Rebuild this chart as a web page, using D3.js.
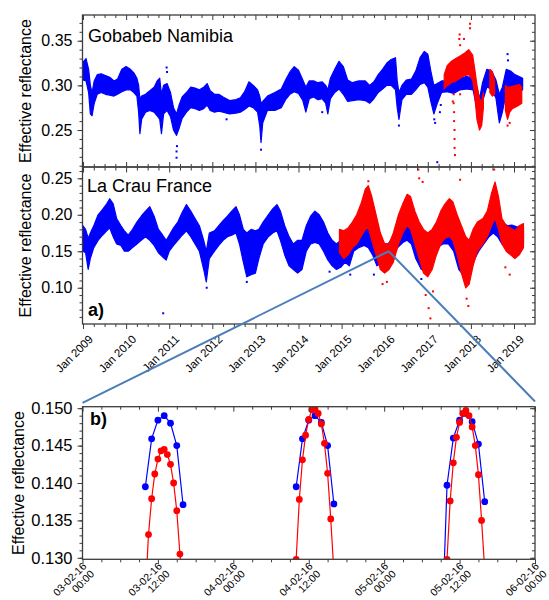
<!DOCTYPE html>
<html><head><meta charset="utf-8">
<script src="https://cdn.jsdelivr.net/npm/d3@7"></script>
<style>body{margin:0;background:#fff}svg text{font-family:Arial,"Liberation Sans",sans-serif}</style>
</head><body><svg id="c" width="549" height="600"></svg>
<script>
// ---------- DATA ----------
// Gobabeb Namibia, blue series: envelope of the dense scatter (decimal year, low, high)
const gobBlueYear=[2009.00,2009.07,2009.13,2009.17,2009.21,2009.26,2009.33,2009.42,2009.52,2009.62,2009.72,2009.80,2009.90,2010.00,2010.10,2010.18,2010.25,2010.29,2010.32,2010.36,2010.45,2010.55,2010.65,2010.72,2010.78,2010.82,2010.87,2010.95,2011.03,2011.10,2011.17,2011.23,2011.30,2011.40,2011.50,2011.60,2011.70,2011.80,2011.88,2011.95,2012.05,2012.15,2012.25,2012.40,2012.55,2012.65,2012.75,2012.85,2012.95,2013.05,2013.10,2013.13,2013.17,2013.28,2013.45,2013.60,2013.70,2013.80,2013.90,2014.00,2014.10,2014.17,2014.25,2014.35,2014.45,2014.55,2014.63,2014.68,2014.74,2014.84,2014.94,2015.04,2015.14,2015.25,2015.40,2015.55,2015.65,2015.75,2015.85,2015.95,2016.05,2016.15,2016.25,2016.29,2016.33,2016.40,2016.50,2016.62,2016.72,2016.82,2016.92,2017.00,2017.07,2017.14,2017.22,2017.32,2017.45,2017.60,2017.75,2017.90,2018.05,2018.13,2018.20,2018.27,2018.37,2018.48,2018.58,2018.66,2018.73,2018.82,2018.92,2019.02,2019.12,2019.20];
const gobBlueLo=[0.306,0.305,0.292,0.268,0.266,0.280,0.290,0.292,0.290,0.289,0.288,0.290,0.293,0.295,0.295,0.292,0.288,0.270,0.246,0.262,0.270,0.272,0.270,0.266,0.262,0.246,0.268,0.272,0.265,0.250,0.244,0.252,0.263,0.270,0.275,0.274,0.272,0.274,0.278,0.272,0.270,0.271,0.270,0.268,0.269,0.270,0.273,0.277,0.275,0.270,0.255,0.236,0.258,0.272,0.272,0.275,0.284,0.290,0.293,0.291,0.283,0.270,0.285,0.287,0.284,0.285,0.280,0.268,0.285,0.292,0.296,0.290,0.282,0.283,0.284,0.283,0.280,0.285,0.292,0.296,0.300,0.300,0.295,0.275,0.262,0.284,0.290,0.290,0.295,0.301,0.303,0.298,0.282,0.268,0.280,0.292,0.293,0.291,0.295,0.296,0.295,0.276,0.258,0.282,0.298,0.296,0.286,0.258,0.270,0.292,0.295,0.293,0.294,0.295];
const gobBlueHi=[0.326,0.330,0.318,0.300,0.292,0.305,0.312,0.313,0.311,0.309,0.305,0.307,0.318,0.321,0.318,0.314,0.308,0.300,0.285,0.288,0.290,0.294,0.298,0.305,0.308,0.290,0.300,0.302,0.292,0.275,0.268,0.278,0.287,0.292,0.298,0.297,0.295,0.298,0.302,0.294,0.290,0.290,0.287,0.283,0.284,0.286,0.293,0.304,0.300,0.295,0.288,0.280,0.282,0.288,0.292,0.296,0.306,0.315,0.321,0.317,0.306,0.298,0.305,0.305,0.303,0.304,0.300,0.295,0.308,0.318,0.327,0.321,0.306,0.303,0.305,0.305,0.300,0.304,0.312,0.318,0.325,0.329,0.331,0.305,0.292,0.300,0.306,0.307,0.316,0.331,0.338,0.335,0.316,0.300,0.302,0.305,0.305,0.305,0.308,0.310,0.308,0.300,0.285,0.303,0.318,0.316,0.306,0.290,0.298,0.318,0.316,0.312,0.310,0.308];
// Gobabeb red series (null = gap)
const gobRedYear=[2017.38,2017.45,2017.55,2017.65,2017.75,2017.85,2017.95,2018.04,2018.09,2018.14,2018.20,2018.25,2018.29,2018.36,2018.44,2018.50,2018.55,2018.65,2018.80,2018.85,2018.90,2018.96,2019.05,2019.12,2019.18];
const gobRedLo=[0.296,0.300,0.303,0.305,0.308,0.311,0.312,0.306,0.288,0.262,0.250,0.255,0.275,null,0.292,0.288,0.290,null,0.272,0.262,0.270,0.274,0.276,0.278,0.280];
const gobRedHi=[0.312,0.322,0.327,0.330,0.333,0.336,0.340,0.334,0.318,0.300,0.285,0.282,0.292,null,0.318,0.315,0.305,null,0.300,0.298,0.298,0.299,0.300,0.301,0.298];
// Gobabeb isolated points
const gobBlueOutYear=[2010.94,2010.95,2011.17,2011.17,2011.18,2013.13,2017.22,2018.85,2018.86,2016.33,2017.15,2017.17,2012.33,2014.55,2017.28,2017.30];
const gobBlueOutVal=[0.320,0.315,0.219,0.226,0.232,0.228,0.214,0.335,0.328,0.255,0.262,0.258,0.262,0.270,0.270,0.278];
const gobRedOutYear=[2017.60,2017.60,2017.61,2017.61,2017.62,2017.62,2017.62,2017.63,2017.73,2017.74,2017.75,2017.84,2017.98,2017.98,2018.85,2018.90,2017.75,2017.58];
const gobRedOutVal=[0.290,0.280,0.270,0.260,0.250,0.240,0.230,0.222,0.352,0.357,0.345,0.352,0.369,0.364,0.255,0.258,0.290,0.282];

// La Crau France, blue series
const crauBlueYear=[2009.00,2009.06,2009.12,2009.17,2009.25,2009.35,2009.45,2009.55,2009.62,2009.70,2009.78,2009.88,2009.96,2010.05,2010.15,2010.25,2010.35,2010.45,2010.55,2010.65,2010.75,2010.85,2010.93,2011.00,2011.10,2011.20,2011.30,2011.40,2011.50,2011.60,2011.70,2011.80,2011.86,2011.93,2012.05,2012.15,2012.25,2012.35,2012.45,2012.55,2012.63,2012.72,2012.80,2012.90,2013.00,2013.08,2013.18,2013.30,2013.40,2013.50,2013.58,2013.68,2013.78,2013.88,2013.98,2014.08,2014.18,2014.28,2014.38,2014.48,2014.58,2014.68,2014.78,2014.88,2014.98,2015.08,2015.18,2015.28,2015.40,2015.52,2015.62,2015.72,2015.82,2015.95,2016.08,2016.20,2016.30,2016.42,2016.52,2016.62,2016.72,2016.85,2016.98,2017.10,2017.22,2017.35,2017.48,2017.60,2017.72,2017.85,2017.95,2018.05,2018.18,2018.30,2018.42,2018.52,2018.62,2018.72,2018.85,2018.95,2019.05,2019.15,2019.22];
const crauBlueLo=[0.150,0.148,0.125,0.140,0.155,0.165,0.172,0.178,0.182,0.170,0.160,0.158,0.150,0.150,0.155,0.160,0.165,0.170,0.165,0.158,0.148,0.142,0.138,0.150,0.158,0.165,0.172,0.178,0.170,0.160,0.150,0.125,0.108,0.140,0.150,0.158,0.165,0.170,0.172,0.175,0.160,0.135,0.115,0.118,0.120,0.140,0.160,0.170,0.175,0.178,0.165,0.145,0.130,0.125,0.120,0.125,0.150,0.160,0.162,0.160,0.150,0.138,0.130,0.125,0.128,0.135,0.130,0.150,0.155,0.158,0.155,0.145,0.130,0.135,0.140,0.145,0.155,0.162,0.165,0.160,0.140,0.125,0.122,0.135,0.155,0.160,0.160,0.150,0.125,0.115,0.118,0.135,0.150,0.160,0.170,0.175,0.170,0.160,0.158,0.155,0.158,0.155,0.160];
const crauBlueHi=[0.185,0.180,0.168,0.175,0.185,0.200,0.207,0.215,0.222,0.215,0.195,0.185,0.178,0.172,0.180,0.190,0.198,0.205,0.211,0.198,0.180,0.172,0.165,0.172,0.182,0.190,0.203,0.214,0.205,0.195,0.185,0.165,0.150,0.175,0.178,0.185,0.192,0.198,0.205,0.211,0.200,0.180,0.175,0.180,0.178,0.180,0.190,0.200,0.208,0.214,0.205,0.185,0.170,0.160,0.165,0.165,0.185,0.198,0.205,0.200,0.190,0.175,0.165,0.160,0.165,0.170,0.168,0.180,0.188,0.195,0.192,0.180,0.165,0.160,0.160,0.170,0.185,0.195,0.200,0.190,0.175,0.160,0.158,0.165,0.180,0.185,0.188,0.180,0.160,0.155,0.158,0.165,0.178,0.188,0.200,0.212,0.205,0.190,0.185,0.186,0.184,0.182,0.180];
// La Crau red series
const crauRedYear=[2014.95,2015.05,2015.15,2015.25,2015.35,2015.45,2015.55,2015.62,2015.70,2015.80,2015.90,2016.00,2016.10,2016.20,2016.32,2016.42,2016.52,2016.60,2016.70,2016.80,2016.90,2017.00,2017.10,2017.20,2017.30,2017.40,2017.50,2017.58,2017.68,2017.78,2017.88,2017.96,2018.05,2018.15,2018.28,2018.38,2018.48,2018.56,2018.64,2018.72,2018.82,2018.92,2019.02,2019.12,2019.22];
const crauRedLo=[0.148,0.140,0.145,0.155,0.160,0.170,0.180,0.182,0.165,0.145,0.125,0.120,0.125,0.135,0.160,0.175,0.185,0.180,0.160,0.140,0.120,0.115,0.125,0.145,0.160,0.168,0.170,0.165,0.145,0.120,0.100,0.105,0.130,0.150,0.160,0.170,0.185,0.195,0.180,0.160,0.150,0.145,0.140,0.145,0.155];
const crauRedHi=[0.180,0.178,0.182,0.190,0.200,0.215,0.235,0.240,0.225,0.200,0.175,0.160,0.160,0.175,0.200,0.215,0.228,0.225,0.205,0.190,0.180,0.175,0.180,0.190,0.205,0.215,0.222,0.218,0.200,0.185,0.170,0.165,0.180,0.190,0.195,0.205,0.230,0.245,0.225,0.195,0.185,0.182,0.178,0.185,0.188];
// La Crau isolated points
const crauBlueOutYear=[2010.86,2015.75,2016.85,2012.80,2011.87,2014.72,2015.20];
const crauBlueOutVal=[0.065,0.118,0.112,0.108,0.100,0.122,0.118];
const crauRedOutYear=[2015.62,2015.95,2016.05,2016.78,2016.80,2016.88,2016.95,2017.02,2017.06,2017.12,2017.75,2017.90,2017.94,2018.54,2018.80,2018.90];
const crauRedOutVal=[0.246,0.105,0.108,0.262,0.250,0.245,0.090,0.072,0.058,0.095,0.248,0.085,0.075,0.262,0.128,0.118];

// Panel b: single pixel, 3–5 Feb 2016
const bBlueTime=["2016-02-03T10:00","2016-02-03T11:00","2016-02-03T12:00","2016-02-03T13:00","2016-02-03T14:00","2016-02-03T15:00","2016-02-03T16:00",
"2016-02-04T10:00","2016-02-04T11:00","2016-02-04T12:00","2016-02-04T13:00","2016-02-04T14:00","2016-02-04T15:00","2016-02-04T16:00",
"2016-02-05T09:00","2016-02-05T10:00","2016-02-05T11:00","2016-02-05T12:00","2016-02-05T13:00","2016-02-05T14:00","2016-02-05T15:00","2016-02-05T16:00"];
const bBlueValue=[0.1395,0.1459,0.1484,0.1490,0.1480,0.1450,0.1371,
0.1395,0.1459,0.1484,0.1490,0.1481,0.1450,0.1372,
0.1155,0.1397,0.1460,0.1484,0.1493,0.1482,0.1452,0.1375];
const bRedTime=["2016-02-03T10:00","2016-02-03T10:30","2016-02-03T11:00","2016-02-03T11:30","2016-02-03T12:00","2016-02-03T12:30","2016-02-03T13:00","2016-02-03T13:30","2016-02-03T14:00","2016-02-03T14:30","2016-02-03T15:00","2016-02-03T15:30","2016-02-03T16:00",
"2016-02-04T10:00","2016-02-04T10:30","2016-02-04T11:00","2016-02-04T11:30","2016-02-04T12:00","2016-02-04T12:30","2016-02-04T13:00","2016-02-04T13:30","2016-02-04T14:00","2016-02-04T14:30","2016-02-04T15:00","2016-02-04T15:30","2016-02-04T16:00",
"2016-02-05T10:00","2016-02-05T10:30","2016-02-05T11:00","2016-02-05T11:30","2016-02-05T12:00","2016-02-05T12:30","2016-02-05T13:00","2016-02-05T13:30","2016-02-05T14:00","2016-02-05T14:30","2016-02-05T15:00","2016-02-05T15:30","2016-02-05T16:00"];
const bRedValue=[0.1250,0.1331,0.1379,0.1412,0.1432,0.1443,0.1445,0.1438,0.1425,0.1400,0.1363,0.1305,0.1260,
0.1298,0.1378,0.1431,0.1464,0.1485,0.1498,0.1499,0.1493,0.1479,0.1453,0.1413,0.1352,0.1281,
0.1298,0.1376,0.1427,0.1461,0.1481,0.1493,0.1497,0.1490,0.1475,0.1450,0.1411,0.1350,0.1284];

// ticks / labels
const yearTicks=[2009,2010,2011,2012,2013,2014,2015,2016,2017,2018,2019];
const gobYTicks=[0.25,0.30,0.35];
const crauYTicks=[0.10,0.15,0.20,0.25];
const bYTicks=[0.130,0.135,0.140,0.145,0.150];
const zoomDate=2016.093, zoomValue=0.15;
const labelTop="Gobabeb Namibia", labelMid="La Crau France", yTitle="Effective reflectance";

// ---------- DRAW ----------
const svg=d3.select('#c');
const AX='#3c3c3c', BLUE='#0000ff', RED='#ff0000', CONN='#4a7ebb';
const L=82.5,R=535;
const P1={t:15,b:167}, P2={t:167,b:324}, P3={t:406.7,b:559.3};
const x=d3.scaleLinear().domain([2008.988,2019.487]).range([L,R]);
const y1=d3.scaleLinear().domain([0.2086,0.3788]).range([P1.b,P1.t]);
const y2=d3.scaleLinear().domain([0.0503,0.2655]).range([P2.b,P2.t]);
const parse=d3.timeParse("%Y-%m-%dT%H:%M");
const xb=d3.scaleTime().domain([parse("2016-02-03T00:00"),parse("2016-02-06T00:00")]).range([L,R]);
const yb=d3.scaleLinear().domain([0.1298,0.1502]).range([P3.b,P3.t]);

const defs=svg.append('defs');
[['c1',P1],['c2',P2],['c3',P3]].forEach(([id,p])=>{
  defs.append('clipPath').attr('id',id).append('rect').attr('x',L).attr('y',p.t).attr('width',R-L).attr('height',p.b-p.t);
});

function band(g,years,lo,hi,ys,color){
  const d=years.map((yr,i)=>({yr,lo:lo[i],hi:hi[i]}));
  const a=d3.area().defined(e=>e.lo!=null).x(e=>x(e.yr)).y0(e=>ys(e.lo)).y1(e=>ys(e.hi));
  g.append('path').attr('d',a(d)).attr('fill',color).attr('stroke',color).attr('stroke-width',1.2).attr('stroke-linejoin','round');
}
function dots(g,years,vals,ys,color){
  g.selectAll(null).data(years.map((yr,i)=>[yr,vals[i]])).join('rect')
   .attr('x',e=>x(e[0])-1).attr('y',e=>ys(e[1])-1).attr('width',2).attr('height',2).attr('fill',color);
}

// panel 1
const g1=svg.append('g').attr('clip-path','url(#c1)');
band(g1,gobBlueYear,gobBlueLo,gobBlueHi,y1,BLUE);
dots(g1,gobBlueOutYear,gobBlueOutVal,y1,BLUE);
band(g1,gobRedYear,gobRedLo,gobRedHi,y1,RED);
dots(g1,gobRedOutYear,gobRedOutVal,y1,RED);
// panel 2
const g2=svg.append('g').attr('clip-path','url(#c2)');
band(g2,crauBlueYear,crauBlueLo,crauBlueHi,y2,BLUE);
dots(g2,crauBlueOutYear,crauBlueOutVal,y2,BLUE);
band(g2,crauRedYear,crauRedLo,crauRedHi,y2,RED);
dots(g2,crauRedOutYear,crauRedOutVal,y2,RED);

// panel 3
const g3=svg.append('g').attr('clip-path','url(#c3)');
function series(times,vals,color){
  const pts=times.map((t,i)=>({t:parse(t),v:vals[i]}));
  const groups=[];let cur=[];
  pts.forEach((p,i)=>{ if(i>0 && (p.t-pts[i-1].t)>3*3600e3){groups.push(cur);cur=[];} cur.push(p);});
  groups.push(cur);
  const line=d3.line().x(p=>xb(p.t)).y(p=>yb(p.v));
  groups.forEach(gr=>g3.append('path').attr('d',line(gr)).attr('fill','none').attr('stroke',color).attr('stroke-width',1.2));
  g3.selectAll(null).data(pts).join('circle').attr('cx',p=>xb(p.t)).attr('cy',p=>yb(p.v)).attr('r',3.4).attr('fill',color);
}
series(bBlueTime,bBlueValue,BLUE);
series(bRedTime,bRedValue,RED);

// frames & axes
function styleAxis(a){a.select('.domain').remove();a.selectAll('line').attr('stroke',AX).attr('stroke-width',1);}
function frame(p){svg.append('rect').attr('x',L).attr('y',p.t).attr('width',R-L).attr('height',p.b-p.t).attr('fill','none').attr('stroke',AX).attr('stroke-width',1.3);}
const yearMinor=d3.range(2009,2019.5,0.25).filter(v=>Math.abs(v-Math.round(v))>1e-6);

function yAxes(ys,ticks,minor,p,fmt,fs){
  const a=svg.append('g').attr('transform',`translate(${L},0)`).call(d3.axisLeft(ys).tickValues(ticks).tickSize(5).tickPadding(5).tickFormat(d3.format(fmt)));
  styleAxis(a); a.selectAll('text').attr('fill','#000').style('font-size',fs+'px');
  styleAxis(svg.append('g').attr('transform',`translate(${L},0)`).call(d3.axisLeft(ys).tickValues(minor).tickSize(3).tickFormat('')));
  styleAxis(svg.append('g').attr('transform',`translate(${R},0)`).call(d3.axisRight(ys).tickValues(ticks).tickSize(-5).tickFormat('')));
  styleAxis(svg.append('g').attr('transform',`translate(${R},0)`).call(d3.axisRight(ys).tickValues(minor).tickSize(-3).tickFormat('')));
}
function xInward(sc,ticks,minor,yPos,dir){
  const gen=dir==='top'?d3.axisTop:d3.axisBottom;
  styleAxis(svg.append('g').attr('transform',`translate(0,${yPos})`).call(gen(sc).tickValues(ticks).tickSize(-5).tickFormat('')));
  styleAxis(svg.append('g').attr('transform',`translate(0,${yPos})`).call(gen(sc).tickValues(minor).tickSize(-3).tickFormat('')));
}

// panel 1 axes
yAxes(y1,gobYTicks,d3.range(0.21,0.375,0.01),P1,'.2f',16);
xInward(x,yearTicks,yearMinor,P1.t,'top');
xInward(x,yearTicks,yearMinor,P1.b,'bottom');
// panel 2 axes
yAxes(y2,crauYTicks,d3.range(0.06,0.265,0.01),P2,'.2f',16);
xInward(x,yearTicks,yearMinor,P2.t+0.5,'top');
styleAxis(svg.append('g').attr('transform',`translate(0,${P2.b})`).call(d3.axisBottom(x).tickValues(yearTicks).tickSize(5).tickFormat('')));
styleAxis(svg.append('g').attr('transform',`translate(0,${P2.b})`).call(d3.axisBottom(x).tickValues(yearMinor).tickSize(3).tickFormat('')));
svg.append('g').selectAll('text').data(yearTicks).join('text')
  .attr('transform',d=>`translate(${x(d)+8},${P2.b+13}) rotate(-45)`)
  .attr('text-anchor','end').attr('dy','0.35em').style('font-size','11.5px').attr('fill','#000')
  .text(d=>'Jan '+d);
// panel 3 axes
yAxes(yb,bYTicks,d3.range(0.130,0.1505,0.001),P3,'.3f',16.5);
const bMajor=xb.ticks(d3.timeHour.every(12)), bMinor=xb.ticks(d3.timeHour.every(3)).filter(t=>t.getHours()%12!==0);
xInward(xb,bMajor,bMinor,P3.t,'top');
styleAxis(svg.append('g').attr('transform',`translate(0,${P3.b})`).call(d3.axisBottom(xb).tickValues(bMajor).tickSize(5).tickFormat('')));
styleAxis(svg.append('g').attr('transform',`translate(0,${P3.b})`).call(d3.axisBottom(xb).tickValues(bMinor).tickSize(3).tickFormat('')));
const fD=d3.timeFormat("%d-%m-%y"), fT=d3.timeFormat("%H:%M");
const bl=svg.append('g').selectAll('text').data(bMajor).join('text')
  .attr('transform',d=>`translate(${xb(d)+2},${P3.b+5}) rotate(-45)`)
  .attr('text-anchor','end').style('font-size','10.5px').attr('fill','#000');
bl.append('tspan').attr('x',0).attr('dy','0.35em').text(d=>fD(d));
bl.append('tspan').attr('x',0).attr('dy','1.05em').text(d=>fT(d));

frame(P1);frame(P2);frame(P3);

// titles
function yT(cx,cy){svg.append('text').attr('transform',`translate(${cx},${cy}) rotate(-90)`).attr('text-anchor','middle').attr('dy','0.35em').style('font-size','16px').attr('fill','#000').text(yTitle);}
yT(25,(P1.t+P1.b)/2);yT(25,(P2.t+P2.b)/2);yT(18,(P3.t+P3.b)/2);
svg.append('text').attr('x',88).attr('y',42).style('font-size','18px').attr('fill','#000').text(labelTop);
svg.append('text').attr('x',87).attr('y',192).style('font-size','18px').attr('fill','#000').text(labelMid);
svg.append('text').attr('x',88).attr('y',316).style('font-size','18px').style('font-weight','bold').attr('fill','#000').text('a)');
svg.append('text').attr('x',90).attr('y',425).style('font-size','18px').style('font-weight','bold').attr('fill','#000').text('b)');

// zoom connectors
const apex=[x(zoomDate),y2(zoomValue)];
svg.append('line').attr('x1',apex[0]).attr('y1',apex[1]).attr('x2',xb.range()[0]).attr('y2',yb(0.1507)).attr('stroke',CONN).attr('stroke-width',2);
svg.append('line').attr('x1',apex[0]).attr('y1',apex[1]).attr('x2',xb.range()[1]).attr('y2',yb(0.1509)).attr('stroke',CONN).attr('stroke-width',2);
</script></body></html>
